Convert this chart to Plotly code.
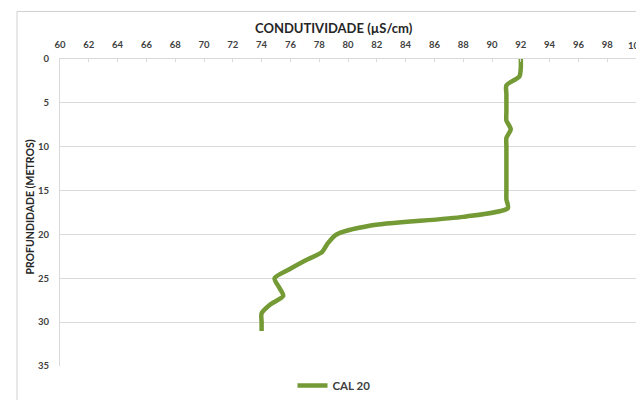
import plotly.graph_objects as go

# Conductivity profile, well CAL 20
profundidade = [0, 1, 2, 3, 4, 5, 6, 7, 8, 9, 10, 11, 12, 13, 14, 15, 16, 17,
                18, 19, 20, 21, 22, 23, 24, 25, 26, 27, 28, 29, 30, 31]
condutividade = [92.0, 92.0, 91.9, 91.0, 91.0, 91.0, 91.0, 91.0, 91.3, 91.0,
                 91.0, 91.0, 91.0, 91.0, 91.0, 91.0, 91.0, 91.1, 88.0, 81.5,
                 79.2, 78.6, 78.2, 77.0, 75.9, 74.9, 75.2, 75.5, 74.6, 74.0,
                 74.0, 74.0]
serie = "CAL 20"

x_ticks = list(range(60, 101, 2))
y_ticks = list(range(0, 36, 5))

GREEN = "#739a35"
GRID = "#d9d9d9"
TEXT = "#404040"
FONT = "Lato"
TICK_SIZE = 9.5

fig = go.Figure()
fig.add_trace(go.Scatter(
    x=condutividade, y=profundidade, mode="lines", name=serie,
    line=dict(color=GREEN, width=4.5, shape="spline", smoothing=0.7),
))

L, T, W, H = 60, 59, 576, 310

fig.update_layout(
    width=636, height=400,
    margin=dict(l=L, r=636 - L - W, t=T, b=400 - T - H, pad=0),
    paper_bgcolor="white", plot_bgcolor="white",
    font=dict(family=FONT, color=TEXT),
    showlegend=True,
    legend=dict(orientation="h", x=(334 - L) / W, xanchor="center",
                y=-(389 - (T + H)) / H, yanchor="middle",
                font=dict(family=FONT, size=11.5, color=TEXT, weight="bold"),
                bgcolor="rgba(0,0,0,0)", itemwidth=30),
    xaxis=dict(
        side="top", range=[60, 100], tickvals=x_ticks,
        ticktext=[str(v) for v in x_ticks],
        showgrid=False, zeroline=False,
        showline=True, linecolor=GRID, linewidth=1,
        ticks="inside", ticklen=3, tickcolor=GRID,
        tickfont=dict(family=FONT, size=TICK_SIZE, color=TEXT, weight="bold"),
        ticklabelstandoff=6,
    ),
    yaxis=dict(
        range=[35, 0], tickvals=y_ticks,
        showgrid=True, gridcolor=GRID, gridwidth=1, zeroline=False,
        showline=True, linecolor=GRID, linewidth=1,
        ticks="",
        tickfont=dict(family=FONT, size=TICK_SIZE, color=TEXT, weight="bold"),
        ticklabelstandoff=8,
    ),
    shapes=[dict(
        type="rect", xref="paper", yref="paper",
        x0=(17 - L) / W, x1=1.2, y0=-0.3, y1=1 + (T - 11) / H,
        line=dict(color="#d0d0d0", width=1), fillcolor="rgba(0,0,0,0)",
        layer="below",
    )],
    annotations=[
        # last tick label sits on the right edge of the page
        dict(text=str(x_ticks[-1]), xref="x", yref="paper",
             x=x_ticks[-1], y=1 + (T - 45) / H, xanchor="center",
             yanchor="middle", showarrow=False,
             font=dict(family=FONT, size=TICK_SIZE, color=TEXT,
                       weight="bold")),
        dict(text="CONDUTIVIDADE (µS/cm)", xref="paper", yref="paper",
             x=(334 - L) / W, y=1 + (T - 28) / H, xanchor="center",
             yanchor="middle", showarrow=False,
             font=dict(family=FONT, size=13, color="#262626", weight="bold")),
        dict(text="PROFUNDIDADE (METROS)", xref="paper", yref="paper",
             x=-(L - 30) / W, y=1 - (209 - T) / H, xanchor="center",
             yanchor="middle", textangle=-90, showarrow=False,
             font=dict(family=FONT, size=10.5, color="#262626",
                       weight="bold")),
    ],
)

fig.write_html("out.html")
